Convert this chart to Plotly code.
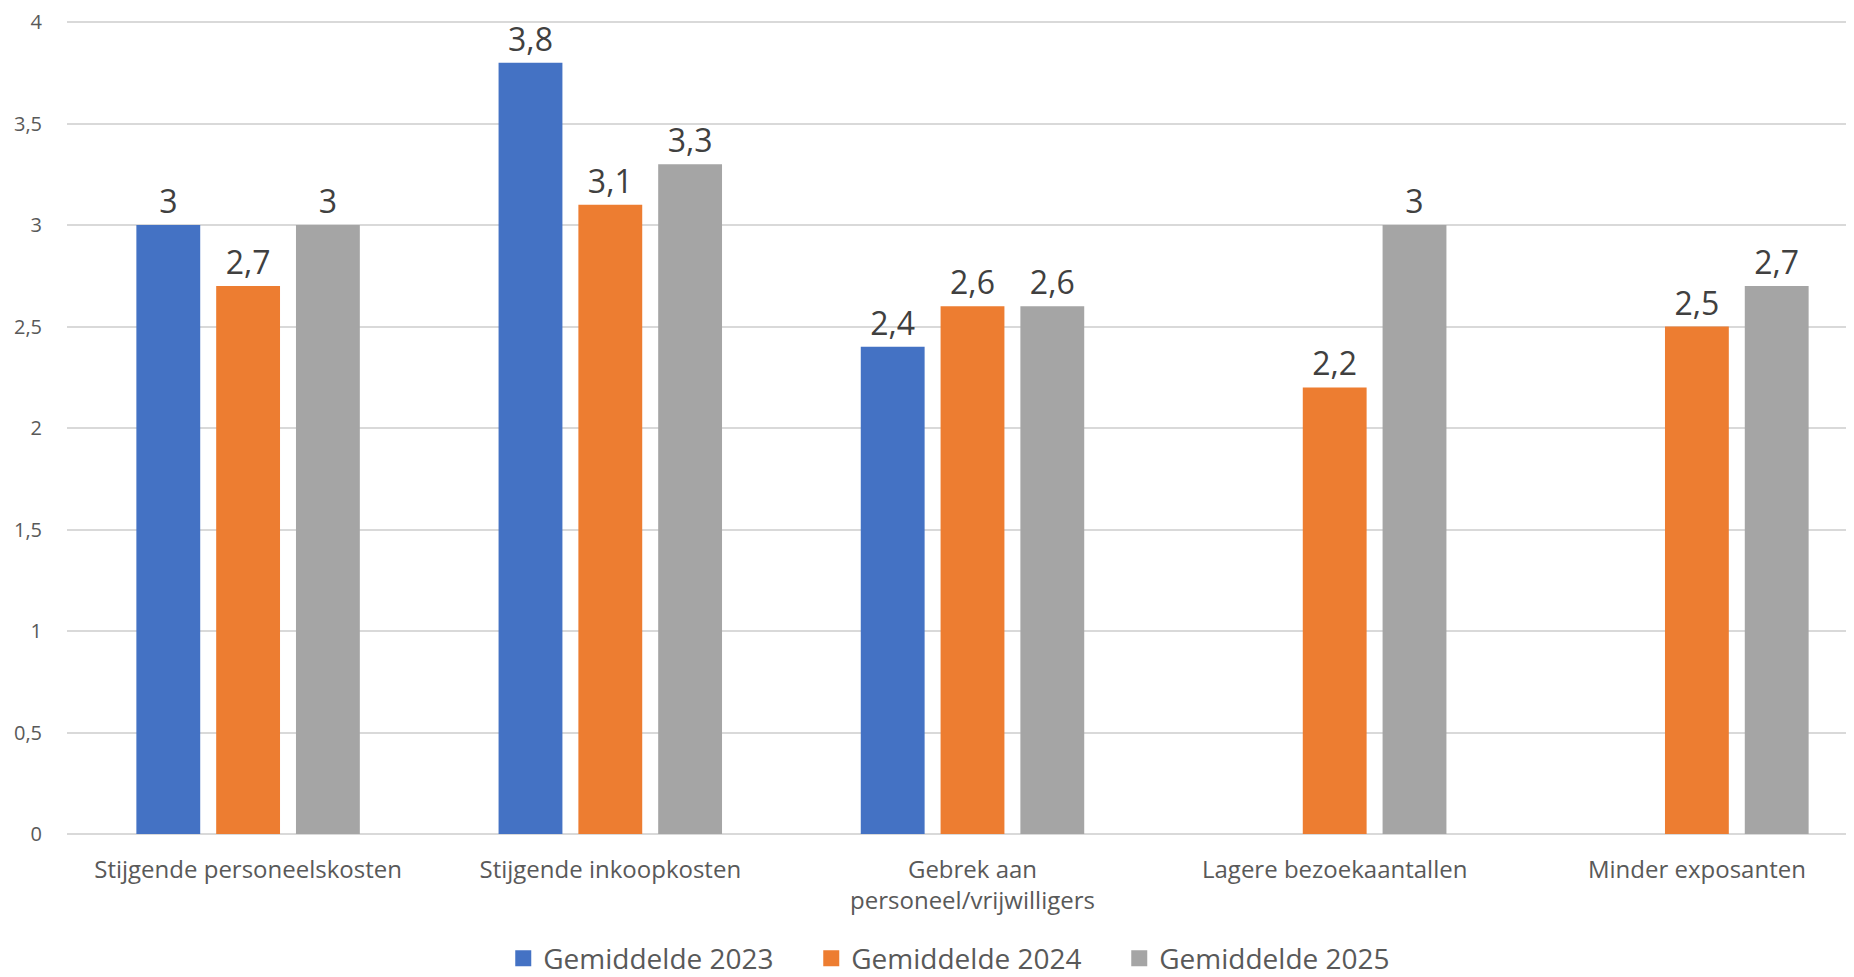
import plotly.graph_objects as go

categories = ["Stijgende personeelskosten", "Stijgende inkoopkosten",
              "Gebrek aan<br>personeel/vrijwilligers", "Lagere bezoekaantallen",
              "Minder exposanten"]
series_names = ["Gemiddelde 2023", "Gemiddelde 2024", "Gemiddelde 2025"]
values_2023 = [3.0, 3.8, 2.4, None, None]
values_2024 = [2.7, 3.1, 2.6, 2.2, 2.5]
values_2025 = [3.0, 3.3, 2.6, 3.0, 2.7]
colors = ["#4472C4", "#ED7D31", "#A5A5A5"]
y_ticks = [0, 0.5, 1, 1.5, 2, 2.5, 3, 3.5, 4]

FONT = "Open Sans"
fig = go.Figure()
for name, vals, col in zip(series_names, [values_2023, values_2024, values_2025], colors):
    fig.add_trace(go.Bar(
        x=categories, y=vals, name=name, marker=dict(color=col, line=dict(width=0)),
        texttemplate="%{y}", textposition="outside", cliponaxis=False,
        textfont=dict(family=FONT, size=32, color="#404040"), showlegend=False,
    ))
# legend entries with larger square swatches
for name, col in zip(series_names, colors):
    fig.add_trace(go.Scatter(
        x=[None], y=[None], mode="markers", name=name,
        marker=dict(symbol="square", size=18, color=col),
    ))

fig.update_layout(
    width=1870, height=969,
    margin=dict(l=58.5, r=0, t=5, b=143),
    paper_bgcolor="white", plot_bgcolor="white",
    separators=",.",
    barmode="group", bargap=0.339, bargroupgap=0.2,
    font=dict(family=FONT, color="#595959"),
    showlegend=True,
    legend=dict(orientation="h", x=0.496, xanchor="center", yref="container", y=0.019,
                yanchor="middle", font=dict(family=FONT, size=28, color="#595959"),
                entrywidth=263, traceorder="normal", itemwidth=30),
    xaxis=dict(showgrid=False, ticks="outside", ticklen=14, tickcolor="rgba(0,0,0,0)",
               tickfont=dict(family=FONT, size=24, color="#595959"), showline=False),
    yaxis=dict(range=[0, 4.03], tickvals=y_ticks, showgrid=True, gridcolor="#D9D9D9",
               gridwidth=1.5, zeroline=True, zerolinecolor="#D9D9D9", zerolinewidth=1.5,
               ticklabelstandoff=24, ticklabeloverflow="allow",
               tickfont=dict(family=FONT, size=20, color="#595959"), showline=False),
)
fig.write_html("out.html")
